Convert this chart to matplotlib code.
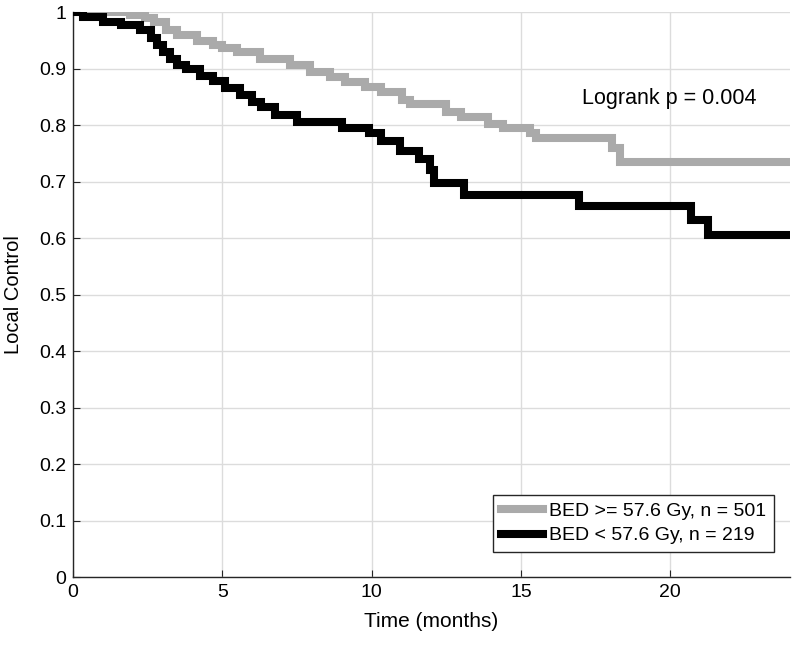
import numpy as np
import matplotlib
matplotlib.use("Agg")
import matplotlib.pyplot as plt

plt.rcParams['font.family'] = ['Liberation Sans', 'DejaVu Sans']

# Kaplan-Meier step data (time in months, survival after step)
t_high = [0, 1.9, 2.4, 2.7, 3.1, 3.5, 4.15, 4.7, 5.0, 5.5, 6.25, 7.26, 7.93, 8.6,
          9.1, 9.77, 10.3, 11.0, 11.3, 12.5, 13.0, 13.9, 14.4, 15.3, 15.5, 18.05, 18.3, 24]
s_high = [1.0, 0.995, 0.99, 0.982, 0.968, 0.96, 0.95, 0.942, 0.937, 0.93, 0.918, 0.906,
          0.894, 0.885, 0.876, 0.867, 0.858, 0.845, 0.837, 0.823, 0.814, 0.803, 0.795,
          0.786, 0.777, 0.759, 0.735, 0.735]

t_low = [0, 0.33, 1.0, 1.6, 2.25, 2.6, 2.8, 3.0, 3.25, 3.5, 3.8, 4.25, 4.7, 5.1, 5.6,
         6.0, 6.3, 6.75, 7.5, 9.0, 9.9, 10.3, 10.95, 11.6, 11.95, 12.1, 13.1, 16.95,
         20.7, 21.25, 24]
s_low = [1.0, 0.991, 0.982, 0.977, 0.968, 0.954, 0.942, 0.929, 0.918, 0.906, 0.9,
         0.888, 0.878, 0.866, 0.853, 0.841, 0.832, 0.818, 0.805, 0.795, 0.786, 0.772,
         0.755, 0.74, 0.72, 0.697, 0.677, 0.657, 0.632, 0.605, 0.605]

labels = ['BED >= 57.6 Gy, n = 501', 'BED < 57.6 Gy, n = 219']
pval_text = 'Logrank p = 0.004'

fig = plt.figure(figsize=(7.93, 6.47), dpi=100)
ax = fig.add_axes([0.092, 0.108, 0.904, 0.873])

ax.step(t_high, s_high, where='post', color='#aaaaaa', lw=5.8, label=labels[0],
        solid_joinstyle='miter', zorder=3)
ax.step(t_low, s_low, where='post', color='black', lw=5.8, label=labels[1],
        solid_joinstyle='miter', zorder=4)

ax.set_xlim(0, 24)
ax.set_ylim(0, 1)
ax.set_xticks([0, 5, 10, 15, 20])
ax.set_yticks(np.arange(0, 1.01, 0.1))
ax.set_yticklabels(['0', '0.1', '0.2', '0.3', '0.4', '0.5', '0.6', '0.7', '0.8', '0.9', '1'])
ax.grid(True, color='#dcdcdc', lw=1)
ax.set_axisbelow(True)
for s in ['top', 'right']:
    ax.spines[s].set_visible(False)
for s in ['left', 'bottom']:
    ax.spines[s].set_color('#262626')
    ax.spines[s].set_linewidth(1)
ax.tick_params(direction='in', length=5, labelsize=14, colors='#262626',
               labelcolor='black', pad=5)

ax.set_xlabel('Time (months)', fontsize=15, labelpad=8)
ax.set_ylabel('Local Control', fontsize=14.5, labelpad=11)

ax.text(17.04, 0.848, pval_text, fontsize=15.5, va='center', ha='left')

leg = ax.legend(loc='lower right', bbox_to_anchor=(0.978, 0.044), borderaxespad=0,
                fontsize=14, handlelength=2.2, handletextpad=0.3,
                fancybox=False, edgecolor='#262626', framealpha=1,
                borderpad=0.4, labelspacing=0.35)
leg.get_frame().set_linewidth(1)

fig.savefig('out.png', dpi=100)
